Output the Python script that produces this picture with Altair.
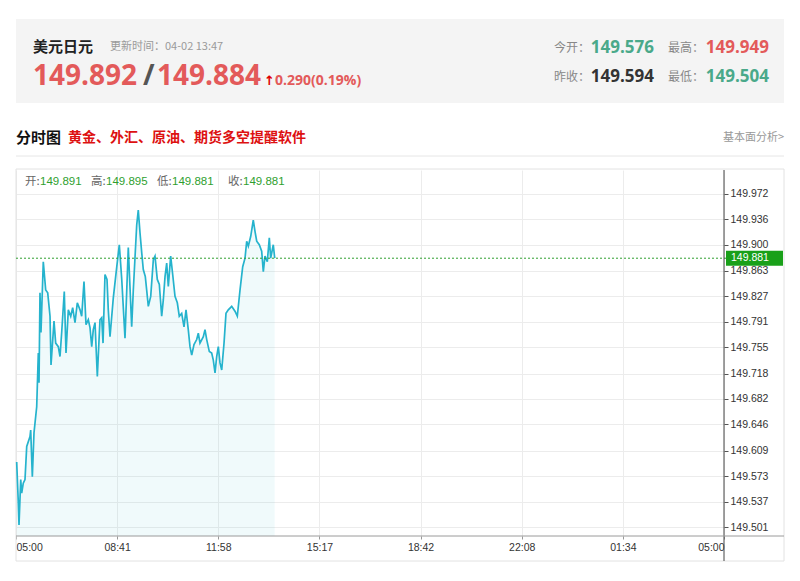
import altair as alt
import pandas as pd

# ---------------- data ----------------
minutes = [1.4, 4.7, 6.1, 9.6, 11.6, 14.8, 18.3, 21.8, 28.5, 29.9,
           33.2, 36.6, 42.1, 45.4, 46.8, 48.8, 50.8, 55.5, 60.4, 64.5,
           69.2, 71.2, 77.3, 80.7, 86.0, 89.5, 92.9, 98.2, 101.7, 106.4,
           111.3, 115.3, 120.0, 124.7, 130.2, 133.6, 138.3, 142.4, 147.1, 150.5,
           154.0, 157.2, 160.7, 165.4, 170.8, 174.3, 177.0, 181.0, 185.1, 187.7,
           191.2, 197.9, 204.8, 210.1, 215.0, 221.7, 228.4, 235.3, 238.6, 245.5,
           248.7, 252.2, 255.7, 258.9, 263.0, 265.8, 269.1, 274.0, 279.3, 282.7,
           287.4, 291.5, 296.3, 299.6, 303.1, 306.5, 309.8, 314.6, 318.7, 323.4,
           328.1, 332.1, 337.0, 341.7, 345.8, 350.4, 353.9, 357.4, 362.0, 367.5,
           370.8, 374.2, 381.0, 384.4, 387.9, 393.2, 398.0, 401.3, 404.8, 408.2,
           411.5, 414.9, 418.4, 423.1, 427.1, 431.8, 438.7, 445.4, 450.1, 455.6,
           461.1, 465.8, 469.2, 472.5, 477.4, 482.6, 486.1, 489.6, 494.8, 499.7,
           503.0, 506.4, 511.1, 515.2, 518.0, 523.3, 526.2]
prices = [149.593, 149.535, 149.504, 149.568, 149.549, 149.563, 149.568, 149.615, 149.629, 149.638,
          149.572, 149.634, 149.671, 149.747, 149.705, 149.832, 149.776, 149.876, 149.836, 149.832,
          149.799, 149.730, 149.792, 149.761, 149.756, 149.742, 149.776, 149.834, 149.747, 149.808,
          149.799, 149.811, 149.790, 149.818, 149.808, 149.799, 149.848, 149.787, 149.794, 149.783,
          149.756, 149.780, 149.790, 149.714, 149.794, 149.797, 149.761, 149.858, 149.851, 149.808,
          149.770, 149.825, 149.868, 149.900, 149.852, 149.768, 149.896, 149.784, 149.836, 149.928,
          149.949, 149.917, 149.889, 149.865, 149.855, 149.836, 149.813, 149.827, 149.879, 149.884,
          149.851, 149.844, 149.799, 149.822, 149.855, 149.874, 149.841, 149.884, 149.858, 149.827,
          149.818, 149.799, 149.803, 149.784, 149.808, 149.780, 149.756, 149.744, 149.759, 149.766,
          149.775, 149.761, 149.770, 149.780, 149.766, 149.749, 149.747, 149.737, 149.719, 149.742,
          149.756, 149.733, 149.723, 149.761, 149.803, 149.808, 149.813, 149.806, 149.799, 149.836,
          149.869, 149.881, 149.905, 149.898, 149.912, 149.935, 149.919, 149.905, 149.900, 149.891,
          149.862, 149.884, 149.876, 149.910, 149.881, 149.900, 149.881]

current_price = [149.881]

y_ticks = [149.501, 149.537, 149.573, 149.609, 149.646, 149.682, 149.718,
           149.755, 149.791, 149.827, 149.863, 149.900, 149.936, 149.972]
x_tick_labels = ["05:00", "08:41", "11:58", "15:17", "18:42", "22:08", "01:34", "05:00"]

title_name = "美元日元"
update_text = "更新时间：04-02 13:47"
bid_text = "149.892"
ask_text = "149.884"
change_text = "0.290(0.19%)"
stat_labels = ["今开：", "最高：", "昨收：", "最低："]
stat_values = ["149.576", "149.949", "149.594", "149.504"]
section_title = "分时图"
promo_text = "黄金、外汇、原油、期货多空提醒软件"
link_text = "基本面分析>"
ohlc_labels = ["开:", "高:", "低:", "收:"]
ohlc_values = ["149.891", "149.895", "149.881", "149.881"]

# ---------------- chart ----------------
CJK = "Noto Sans CJK SC"
NUM = "Open Sans"
AX = "Liberation Sans"
RED = "#e35a5a"
GREEN_H = "#4aa98a"
GREEN = "#2f9f2f"
LINE = "#25b3cd"

W, H = 708, 366
Y_LO, Y_HI = 149.4883, 150.0057
span = 1440.0
step = span / (len(x_tick_labels) - 1)
x_vals = [i * step for i in range(len(x_tick_labels))]
lab_arr = "[" + ",".join("'%s'" % s for s in x_tick_labels) + "]"

df = pd.DataFrame({"m": minutes, "p": prices})
cur = pd.DataFrame({"p": current_price})
one = pd.DataFrame({"k": [0]})

xenc = alt.X("m:Q", title=None,
             scale=alt.Scale(domain=[0, span], nice=False, zero=False),
             axis=alt.Axis(values=x_vals, tickCount=50,
                           labelExpr=lab_arr + "[round(datum.value / %f)]" % step,
                           grid=True, gridColor="#ececec", domain=False,
                           tickColor="#999999", tickSize=3, labelPadding=3,
                           labelFlush=True, labelOverlap=False, labelFont=AX,
                           labelFontSize=10.5, labelColor="#333333"))
yenc = alt.Y("p:Q", title=None,
             scale=alt.Scale(domain=[Y_LO, Y_HI], nice=False, zero=False),
             axis=alt.Axis(orient="right", values=y_ticks, tickCount=50, format=".3f",
                           grid=True, gridColor="#ececec", domain=False,
                           tickColor="#555555", tickSize=4, labelPadding=2,
                           labelOverlap=False, labelFont=AX, labelFontSize=10.5,
                           labelColor="#333333"))

base = alt.Chart(df)
area = base.mark_area(color=LINE, opacity=0.07).encode(x=xenc, y=yenc, y2=alt.datum(Y_LO))
line = base.mark_line(color=LINE, strokeWidth=1.7).encode(x=xenc, y=yenc)

cur_rule = alt.Chart(cur).mark_rule(color=GREEN, strokeDash=[2, 2], strokeWidth=1).encode(
    y="p:Q", x=alt.value(0), x2=alt.value(710))
cur_box = alt.Chart(cur).mark_rect(color="#19a019", yOffset=-7.5, y2Offset=7.5).encode(
    y="p:Q", y2="p:Q", x=alt.value(710), x2=alt.value(767))
cur_txt = alt.Chart(cur).mark_text(align="left", baseline="middle", color="white",
                                   font=AX, fontSize=10.5).encode(
    y="p:Q", x=alt.value(715), text=alt.Text("p:Q", format=".3f"))


def rule(x1, x2, y1, y2, color):
    return alt.Chart(one).mark_rule(color=color).encode(
        x=alt.value(x1), x2=alt.value(x2), y=alt.value(y1), y2=alt.value(y2))


def box(x1, x2, y1, y2, fill, stroke=None):
    kw = dict(fill=fill)
    if stroke:
        kw["stroke"] = stroke
        kw["strokeWidth"] = 1
    return alt.Chart(one).mark_rect(**kw).encode(
        x=alt.value(x1), x2=alt.value(x2), y=alt.value(y1), y2=alt.value(y2))


def txt(s, x, y, size, color, weight="normal", align="left", font=CJK):
    return alt.Chart(one).mark_text(text=s, align=align, baseline="middle",
                                    fontSize=size, color=color, fontWeight=weight,
                                    font=font).encode(x=alt.value(x), y=alt.value(y))


layers = [
    box(0, 768, -151, -67, "#f4f4f4"),
    box(0, 768, -1, 391, "transparent", "#e2e2e2"),
    rule(0, 768, -14, -14, "#e6e6e6"),
    area, line,
    cur_rule, cur_box, cur_txt,
    rule(708, 708, 0, 391, "#444444"),
    rule(0, 768, H, H, "#9a9a9a"),
    # header
    txt(title_name, 17, -123.5, 15, "#222222", "bold"),
    txt(update_text, 94, -123, 11, "#9a9a9a"),
    txt(bid_text, 17, -93, 28, RED, "bold", font=NUM),
    txt("/", 127, -93, 28, "#555555", "bold", font=NUM),
    txt(ask_text, 141, -93, 28, RED, "bold", font=NUM),
    txt("↑", 248, -89, 13, "#e00000", "bold", font="DejaVu Sans"),
    txt(change_text, 259, -89, 14, RED, "bold", font=NUM),
    txt(stat_labels[0], 538, -122, 12, "#888888"),
    txt(stat_values[0], 638, -122, 17, GREEN_H, "bold", "right", NUM),
    txt(stat_labels[1], 652, -122, 12, "#888888"),
    txt(stat_values[1], 753, -122, 17, RED, "bold", "right", NUM),
    txt(stat_labels[2], 538, -93, 12, "#888888"),
    txt(stat_values[2], 638, -93, 17, "#333333", "bold", "right", NUM),
    txt(stat_labels[3], 652, -93, 12, "#888888"),
    txt(stat_values[3], 753, -93, 17, GREEN_H, "bold", "right", NUM),
    # section title
    txt(section_title, 0, -32, 15, "#111111", "bold"),
    txt(promo_text, 52, -32, 14, "#dd1111", "bold"),
    txt(link_text, 768, -32, 11, "#999999", "normal", "right"),
]
# OHLC info row inside the panel
ohlc_x = [(9, 24), (75, 90), (141, 156), (212, 227)]
for (lx, vx), lab, val in zip(ohlc_x, ohlc_labels, ohlc_values):
    layers.append(txt(lab, lx, 12, 11.5, "#666666"))
    layers.append(txt(val, vx, 12, 11.5, GREEN, font=AX))

chart = alt.layer(*layers).properties(
    width=W, height=H,
    autosize=alt.AutoSizeParams(type="none"),
    padding={"left": 8, "top": 162, "right": 68, "bottom": 28},
    background="white",
).configure_view(strokeWidth=0)

chart.save("out.html", embed_options={"renderer": "svg", "actions": False})
